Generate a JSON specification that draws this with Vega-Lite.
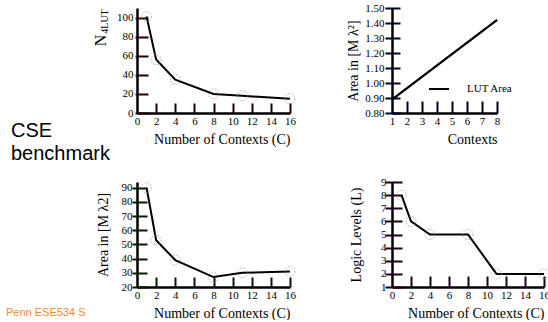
{
  "$schema": "https://vega.github.io/schema/vega-lite/v6.json",
  "background": "white",
  "padding": {"left": 6, "top": 2, "right": 0, "bottom": 0},
  "bounds": "flush",
  "columns": 2,
  "spacing": {"row": 69, "column": 102},
  "resolve": {"scale": {"color": "independent"}, "legend": {"color": "independent"}},
  "datasets": {
    "nlut": [
      {"contexts": 1, "n4lut": 101},
      {"contexts": 2, "n4lut": 56},
      {"contexts": 4, "n4lut": 35},
      {"contexts": 8, "n4lut": 20},
      {"contexts": 11, "n4lut": 18},
      {"contexts": 16, "n4lut": 15}
    ],
    "lutarea": [
      {"contexts": 1, "area": 0.89, "series": "LUT Area"},
      {"contexts": 8, "area": 1.42, "series": "LUT Area"}
    ],
    "area": [
      {"contexts": 1, "area": 90},
      {"contexts": 2, "area": 53},
      {"contexts": 4, "area": 39},
      {"contexts": 8, "area": 27},
      {"contexts": 11, "area": 30},
      {"contexts": 16, "area": 31}
    ],
    "levels": [
      {"contexts": 1, "levels": 8},
      {"contexts": 2, "levels": 6},
      {"contexts": 4, "levels": 5},
      {"contexts": 8, "levels": 5},
      {"contexts": 11, "levels": 2},
      {"contexts": 16, "levels": 2}
    ]
  },
  "concat": [
    {
      "width": 153,
      "height": 105,
      "data": {"name": "nlut"},
      "layer": [
        {
          "mark": {"type": "line", "color": "black", "strokeWidth": 2},
          "encoding": {
            "x": {"field": "contexts", "type": "quantitative", "scale": {"domain": [0, 16], "nice": false, "zero": false},
              "axis": {"orient": "bottom", "values": [0, 2, 4, 6, 8, 10, 12, 14, 16], "ticks": false, "labelPadding": 2, "title": "Number of Contexts (C)", "titleAnchor": "end", "titlePadding": 6}},
            "y": {"field": "n4lut", "type": "quantitative", "scale": {"domain": [0, 110], "nice": false},
              "axis": {"orient": "left", "values": [0, 20, 40, 60, 80, 100], "ticks": false, "labelPadding": 4, "title": "N", "titleFontSize": 16, "titleX": -29, "titleY": 32}}
          }
        },
        {
          "mark": {"type": "point", "filled": false, "color": "#8a8a8a", "strokeDash": [1.5, 1.5], "strokeWidth": 1, "size": 100},
          "encoding": {
            "x": {"field": "contexts", "type": "quantitative", "scale": {"domain": [0, 16], "nice": false, "zero": false},
              "axis": {"orient": "bottom", "values": [2, 4, 6, 8, 10, 12, 14, 16], "labels": false, "domain": false, "ticks": true, "tickColor": "#200000", "tickWidth": 2, "offset": -10, "tickSize": 10, "title": null}},
            "y": {"field": "n4lut", "type": "quantitative", "scale": {"domain": [0, 110], "nice": false},
              "axis": {"orient": "left", "values": [0, 20, 40, 60, 80, 100], "labels": false, "domain": false, "ticks": true, "tickColor": "#200000", "tickWidth": 2, "offset": -11, "tickSize": 13, "title": "4LUT", "titleFontSize": 10, "titleX": -39, "titleY": 13}}
          }
        }
      ],
      "resolve": {"axis": {"x": "independent", "y": "independent"}}
    },
    {
      "width": 105,
      "height": 105,
      "data": {"name": "lutarea"},
      "layer": [
        {
          "mark": {"type": "line", "strokeWidth": 2},
          "encoding": {
            "x": {"field": "contexts", "type": "quantitative", "scale": {"domain": [1, 8], "nice": false, "zero": false},
              "axis": {"orient": "bottom", "values": [1, 2, 3, 4, 5, 6, 7, 8], "ticks": false, "labelPadding": 2, "title": "Contexts", "titleAnchor": "end", "titlePadding": 6}},
            "y": {"field": "area", "type": "quantitative", "scale": {"domain": [0.8, 1.5], "nice": false, "zero": false},
              "axis": {"orient": "left", "values": [0.8, 0.9, 1.0, 1.1, 1.2, 1.3, 1.4, 1.5], "format": ".2f", "ticks": false, "labelPadding": 8, "title": "Area in [M λ²]", "titlePadding": 4}},
            "color": {"field": "series", "type": "nominal", "scale": {"range": ["black"]},
              "legend": {"orient": "none", "legendX": 36, "legendY": 70, "title": null, "symbolType": "stroke", "symbolSize": 400, "symbolStrokeWidth": 2, "symbolStrokeColor": "black", "labelFont": "Liberation Serif", "labelFontSize": 11, "labelColor": "black", "labelOffset": 17, "padding": 0}}
          }
        },
        {
          "mark": {"type": "line", "color": "black", "strokeWidth": 2},
          "encoding": {
            "x": {"field": "contexts", "type": "quantitative", "scale": {"domain": [1, 8], "nice": false, "zero": false},
              "axis": {"orient": "bottom", "values": [2, 3, 4, 5, 6, 7, 8], "labels": false, "domain": false, "ticks": true, "tickColor": "#000020", "tickWidth": 2, "offset": -12, "tickSize": 12, "title": null}},
            "y": {"field": "area", "type": "quantitative", "scale": {"domain": [0.8, 1.5], "nice": false, "zero": false},
              "axis": {"orient": "left", "values": [0.8, 0.9, 1.0, 1.1, 1.2, 1.3, 1.4, 1.5], "labels": false, "domain": false, "ticks": true, "tickColor": "#000020", "tickWidth": 2, "offset": -8, "tickSize": 15, "title": null}}
          }
        }
      ],
      "resolve": {"axis": {"x": "independent", "y": "independent"}}
    },
    {
      "width": 153,
      "height": 105,
      "data": {"name": "area"},
      "title": {"text": ["CSE", "benchmark"], "orient": "top", "anchor": "start", "frame": "group", "font": "Liberation Sans", "fontSize": 20, "fontWeight": "normal", "color": "black", "lineHeight": 23, "dx": -126, "dy": -17, "offset": 0},
      "layer": [
        {
          "mark": {"type": "line", "color": "black", "strokeWidth": 2},
          "encoding": {
            "x": {"field": "contexts", "type": "quantitative", "scale": {"domain": [0, 16], "nice": false, "zero": false},
              "axis": {"orient": "bottom", "values": [0, 2, 4, 6, 8, 10, 12, 14, 16], "ticks": false, "labelPadding": 2, "title": "Number of Contexts (C)", "titleAnchor": "end", "titlePadding": 6}},
            "y": {"field": "area", "type": "quantitative", "scale": {"domain": [20, 94], "nice": false, "zero": false},
              "axis": {"orient": "left", "values": [20, 30, 40, 50, 60, 70, 80, 90], "ticks": false, "labelPadding": 5, "title": "Area  in [M λ2]", "titlePadding": 11}}
          }
        },
        {
          "mark": {"type": "point", "filled": false, "color": "#8a8a8a", "strokeDash": [1.5, 1.5], "strokeWidth": 1, "size": 100},
          "encoding": {
            "x": {"field": "contexts", "type": "quantitative", "scale": {"domain": [0, 16], "nice": false, "zero": false},
              "axis": {"orient": "bottom", "values": [2, 4, 6, 8, 10, 12, 14, 16], "labels": false, "domain": false, "ticks": true, "tickColor": "#001a00", "tickWidth": 2, "offset": -10, "tickSize": 10, "title": null}},
            "y": {"field": "area", "type": "quantitative", "scale": {"domain": [20, 94], "nice": false, "zero": false},
              "axis": {"orient": "left", "values": [20, 30, 40, 50, 60, 70, 80, 90], "labels": false, "domain": false, "ticks": true, "tickColor": "#001a00", "tickWidth": 2, "offset": -10, "tickSize": 15, "title": null}}
          }
        }
      ],
      "resolve": {"axis": {"x": "independent", "y": "independent"}}
    },
    {
      "width": 152,
      "height": 105,
      "data": {"name": "levels"},
      "title": {"text": "Penn ESE534 S", "orient": "bottom", "anchor": "start", "frame": "group", "font": "Liberation Sans", "fontSize": 11, "fontWeight": "normal", "color": "#F7882F", "dx": -386, "dy": -13, "offset": 0},
      "layer": [
        {
          "mark": {"type": "line", "color": "black", "strokeWidth": 2},
          "encoding": {
            "x": {"field": "contexts", "type": "quantitative", "scale": {"domain": [0, 16], "nice": false, "zero": false},
              "axis": {"orient": "bottom", "values": [0, 2, 4, 6, 8, 10, 12, 14, 16], "ticks": false, "labelPadding": 2, "title": "Number of Contexts (C)", "titleAnchor": "end", "titlePadding": 6}},
            "y": {"field": "levels", "type": "quantitative", "scale": {"domain": [1, 9], "nice": false, "zero": false},
              "axis": {"orient": "left", "values": [1, 2, 3, 4, 5, 6, 7, 8, 9], "ticks": false, "labelPadding": 6, "title": "Logic Levels (L)", "titlePadding": 17}}
          }
        },
        {
          "mark": {"type": "point", "filled": false, "color": "#8a8a8a", "strokeDash": [1.5, 1.5], "strokeWidth": 1, "size": 100},
          "encoding": {
            "x": {"field": "contexts", "type": "quantitative", "scale": {"domain": [0, 16], "nice": false, "zero": false},
              "axis": {"orient": "bottom", "values": [2, 4, 6, 8, 10, 12, 14, 16], "labels": false, "domain": false, "ticks": true, "tickColor": "#1a001a", "tickWidth": 2, "offset": -11, "tickSize": 11, "title": null}},
            "y": {"field": "levels", "type": "quantitative", "scale": {"domain": [1, 9], "nice": false, "zero": false},
              "axis": {"orient": "left", "values": [1, 2, 3, 4, 5, 6, 7, 8, 9], "labels": false, "domain": false, "ticks": true, "tickColor": "#1a001a", "tickWidth": 2, "offset": -10, "tickSize": 17, "title": null}}
          }
        }
      ],
      "resolve": {"axis": {"x": "independent", "y": "independent"}}
    }
  ],
  "config": {
    "view": {"stroke": null},
    "font": "Liberation Serif",
    "axis": {
      "labelFont": "Liberation Serif",
      "labelFontSize": 11,
      "labelColor": "black",
      "titleFont": "Liberation Serif",
      "titleFontSize": 14,
      "titleFontWeight": "normal",
      "titleColor": "black",
      "domainColor": "black",
      "domainWidth": 2.5,
      "grid": false,
      "labelFlush": false,
      "labelOverlap": false
    }
  }
}
